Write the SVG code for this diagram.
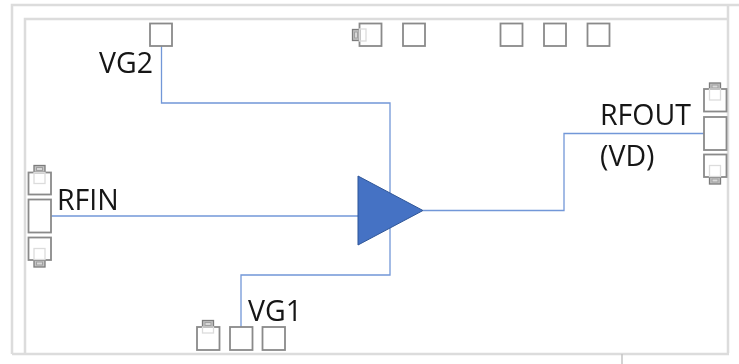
<svg xmlns="http://www.w3.org/2000/svg" width="739" height="364" viewBox="0 0 739 364">
<defs><filter id="soft" x="-2%" y="-2%" width="104%" height="104%"><feGaussianBlur stdDeviation="0.45"/></filter></defs>
<style>
.frame{fill:none;stroke:#dcdcdc;stroke-width:2.5}
.pad{fill:#fff;stroke:#8a8a8a;stroke-width:1.8}
.open{fill:none;stroke:#8a8a8a;stroke-width:1.8}
.part{fill:#c4c4c4;stroke:#7c7c7c;stroke-width:1.3}
.core{fill:#d8d8d8;stroke:#a0a0a0;stroke-width:1}
.ghost{fill:none;stroke:#dcdcdc;stroke-width:1.3}
.wire{fill:none;stroke:#7297d8;stroke-width:1.3}
.label{font-family:"Open Sans","Noto Sans",sans-serif;font-size:28.500px;fill:#141414}
</style>
<rect width="739" height="364" fill="#fff"/>
<g filter="url(#soft)">
<g id="frame">
<path class="frame" d="M12 354V5H739"/>
<path class="frame" d="M25 353V19H729"/>
<path class="frame" d="M12 354H729M728 5V353"/>
<path d="M622 354V364" fill="none" stroke="#c4c4c4" stroke-width="1.5"/>
</g>
<g id="connectors">
<path class="wire" d="M161.500 46V103H390V275H241V327"/>
<path class="wire" d="M51 216H358"/>
<path class="wire" d="M423 210.500H564V133.500H704"/>
</g>
<g id="amp"><path d="M358 176V245L423 210.500Z" fill="#4472c4" stroke="#2f5597" stroke-width="1"/></g>
<g id="pad-vg2"><rect class="pad" x="150" y="23.500" width="22" height="22.500"/></g>
<g id="pad-top1">
<rect class="part" x="352.500" y="29.500" width="7" height="11"/><rect class="core" x="354.500" y="32" width="3" height="6"/>
<rect class="open" x="359.500" y="23.500" width="22" height="22.500"/><rect class="ghost" x="359.500" y="29" width="6.500" height="12"/></g>
<g id="pad-top2"><rect class="pad" x="403" y="23.500" width="22" height="22.500"/></g>
<g id="pad-top3"><rect class="pad" x="500.500" y="23.500" width="22" height="22.500"/></g>
<g id="pad-top4"><rect class="pad" x="544" y="23.500" width="22" height="22.500"/></g>
<g id="pad-top5"><rect class="pad" x="587.500" y="23.500" width="22" height="22.500"/></g>
<g id="pad-left-top">
<rect class="part" x="34" y="165.500" width="11" height="7"/><rect class="core" x="36.500" y="167.500" width="6" height="3"/>
<rect class="pad" x="28.500" y="172.500" width="22.500" height="22"/><rect class="ghost" x="34" y="172.500" width="11" height="11"/></g>
<g id="pad-rfin"><rect class="pad" x="28.500" y="199.500" width="22.500" height="33"/></g>
<g id="pad-left-bottom">
<rect class="part" x="34" y="260" width="11" height="7"/><rect class="core" x="36.500" y="262" width="6" height="3"/>
<rect class="pad" x="28.500" y="237.500" width="22.500" height="22.500"/><rect class="ghost" x="34" y="248.500" width="11" height="11"/></g>
<g id="pad-vg1-left">
<rect class="part" x="202.500" y="320.500" width="11" height="7"/><rect class="core" x="205" y="322.500" width="6" height="3"/>
<rect class="pad" x="197" y="327" width="22.500" height="23"/><rect class="ghost" x="202.500" y="327" width="11" height="6"/></g>
<g id="pad-vg1"><rect class="pad" x="230" y="327" width="22.500" height="23"/></g>
<g id="pad-vg1-right"><rect class="pad" x="262.500" y="327" width="22.500" height="23"/></g>
<g id="pad-right-top">
<rect class="part" x="709.500" y="83" width="11" height="7"/><rect class="core" x="712" y="85" width="6" height="3"/>
<rect class="pad" x="704" y="89" width="22.500" height="22.500"/><rect class="ghost" x="709.500" y="89" width="11" height="11"/></g>
<g id="pad-rfout"><rect class="pad" x="704" y="117" width="22.500" height="33"/></g>
<g id="pad-right-bottom">
<rect class="part" x="709.500" y="177" width="11" height="7"/><rect class="core" x="712" y="179" width="6" height="3"/>
<rect class="pad" x="704" y="154.500" width="22.500" height="22.500"/><rect class="ghost" x="709.500" y="165.500" width="11" height="11"/></g>
<g id="labels">
<text class="label" x="99" y="73">VG2</text>
<text class="label" x="57" y="210">RFIN</text>
<text class="label" x="248" y="321">VG1</text>
<text class="label" x="600" y="125">RFOUT</text>
<text class="label" x="600" y="166">(VD)</text>
</g>
</g>
</svg>
